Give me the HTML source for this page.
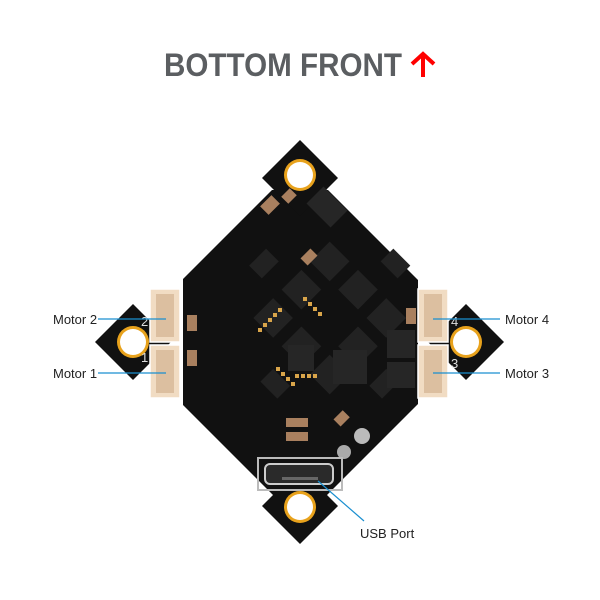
<!DOCTYPE html>
<html><head><style>
html,body{margin:0;padding:0;background:#fff;}
svg{display:block;}
</style></head><body>
<svg width="600" height="600" viewBox="0 0 600 600" xmlns="http://www.w3.org/2000/svg">
<rect width="600" height="600" fill="#fff"/>
<text x="164" y="76" textLength="238" lengthAdjust="spacingAndGlyphs" font-family="Liberation Sans, sans-serif" font-weight="bold" font-size="32" fill="#5b5e61">BOTTOM FRONT</text>
<g stroke="#f00" stroke-width="4" fill="none">
<line x1="423" y1="54" x2="423" y2="77"/>
<polyline points="412,64 423,54 434,64"/>
</g>
<defs>
<clipPath id="c"><rect x="183" y="190" width="235" height="312"/></clipPath>
</defs>
<g fill="#111">
<polygon clip-path="url(#c)" points="300,162 480,342 300,522 120,342"/>
<polygon points="300,140 338,178 300,216 262,178"/>
<polygon points="300,468 338,506 300,544 262,506"/>
<polygon points="133,304 171,342 133,380 95,342"/>
<polygon points="466,304 504,342 466,380 428,342"/>
</g>
<g fill="#e8a21c">
<circle cx="300" cy="175" r="16"/><circle cx="300" cy="507" r="16"/>
<circle cx="133" cy="342" r="16"/><circle cx="466" cy="342" r="16"/>
</g>
<g fill="#fff">
<circle cx="300" cy="175" r="13"/><circle cx="300" cy="507" r="13"/>
<circle cx="133" cy="342" r="13"/><circle cx="466" cy="342" r="13"/>
</g>
<g fill="#222" transform="rotate(45 300 342)">
<rect x="250" y="250" width="28" height="28"/><rect x="290" y="250" width="28" height="28"/><rect x="330" y="250" width="28" height="28"/>
<rect x="250" y="290" width="28" height="28"/><rect x="330" y="290" width="28" height="28"/>
<rect x="250" y="330" width="28" height="28"/><rect x="290" y="330" width="28" height="28"/><rect x="330" y="330" width="28" height="28"/>
<rect x="210" y="300" width="18" height="24"/><rect x="380" y="300" width="18" height="24"/>
<rect x="300" y="210" width="24" height="18"/><rect x="300" y="380" width="24" height="18"/>
</g>
<g fill="#262626">
<rect x="288" y="345" width="26" height="26"/><rect x="333" y="350" width="34" height="34"/>
<rect x="387" y="330" width="28" height="28"/><rect x="387" y="362" width="28" height="26"/>
<rect x="310" y="195" width="34" height="24" transform="rotate(45 327 207)"/>
</g>
<g fill="#d9a54a">
<rect x="268" y="318" width="4" height="4"/><rect x="263" y="323" width="4" height="4"/><rect x="258" y="328" width="4" height="4"/><rect x="273" y="313" width="4" height="4"/><rect x="278" y="308" width="4" height="4"/>
<rect x="303" y="297" width="4" height="4"/><rect x="308" y="302" width="4" height="4"/><rect x="313" y="307" width="4" height="4"/><rect x="318" y="312" width="4" height="4"/>
<rect x="276" y="367" width="4" height="4"/><rect x="281" y="372" width="4" height="4"/><rect x="286" y="377" width="4" height="4"/><rect x="291" y="382" width="4" height="4"/>
<rect x="295" y="374" width="4" height="4"/><rect x="301" y="374" width="4" height="4"/><rect x="307" y="374" width="4" height="4"/><rect x="313" y="374" width="4" height="4"/>
</g>
<g fill="#a9805f">
<rect x="264" y="197" width="12" height="16" transform="rotate(45 270 205)"/>
<rect x="284" y="190" width="10" height="12" transform="rotate(45 289 196)"/>
<rect x="304" y="250" width="10" height="14" transform="rotate(45 309 257)"/>
<rect x="187" y="315" width="10" height="16"/><rect x="187" y="350" width="10" height="16"/>
<rect x="406" y="308" width="10" height="16"/>
<rect x="286" y="418" width="22" height="9"/><rect x="286" y="432" width="22" height="9"/>
<rect x="337" y="412" width="10" height="13" transform="rotate(45 342 418)"/>
</g>
<circle cx="362" cy="436" r="8" fill="#bbb"/><circle cx="344" cy="452" r="7" fill="#aaa"/>
<rect x="258" y="458" width="84" height="32" fill="none" stroke="#bbb" stroke-width="2"/>
<rect x="265" y="464" width="68" height="20" rx="5" fill="#2a2a2a" stroke="#ccc" stroke-width="2"/>
<rect x="282" y="477" width="36" height="3" fill="#666"/>
<g fill="#f1dcc3" stroke="#fff" stroke-width="1.5">
<rect x="150" y="289" width="30" height="53"/><rect x="150" y="345" width="30" height="53"/>
<rect x="418" y="289" width="30" height="53"/><rect x="418" y="345" width="30" height="53"/>
</g>
<g fill="#dcbfa0">
<rect x="156" y="294" width="18" height="43"/><rect x="156" y="350" width="18" height="43"/>
<rect x="424" y="294" width="18" height="43"/><rect x="424" y="350" width="18" height="43"/>
</g>
<g font-family="Liberation Sans, sans-serif" font-size="13" fill="#ddd">
<text x="141" y="326">2</text><text x="141" y="362">1</text>
<text x="451" y="326">4</text><text x="451" y="368">3</text>
</g>
<g stroke="#1a8fd0" stroke-width="1.2">
<line x1="98" y1="319" x2="166" y2="319"/><line x1="98" y1="373" x2="166" y2="373"/>
<line x1="433" y1="319" x2="500" y2="319"/><line x1="433" y1="373" x2="500" y2="373"/>
<line x1="318" y1="481" x2="364" y2="521"/>
</g>
<g font-family="Liberation Sans, sans-serif" font-size="13" fill="#222">
<text x="53" y="324">Motor 2</text><text x="53" y="378">Motor 1</text>
<text x="505" y="324">Motor 4</text><text x="505" y="378">Motor 3</text>
<text x="360" y="538">USB Port</text>
</g>
</svg>
</body></html>
